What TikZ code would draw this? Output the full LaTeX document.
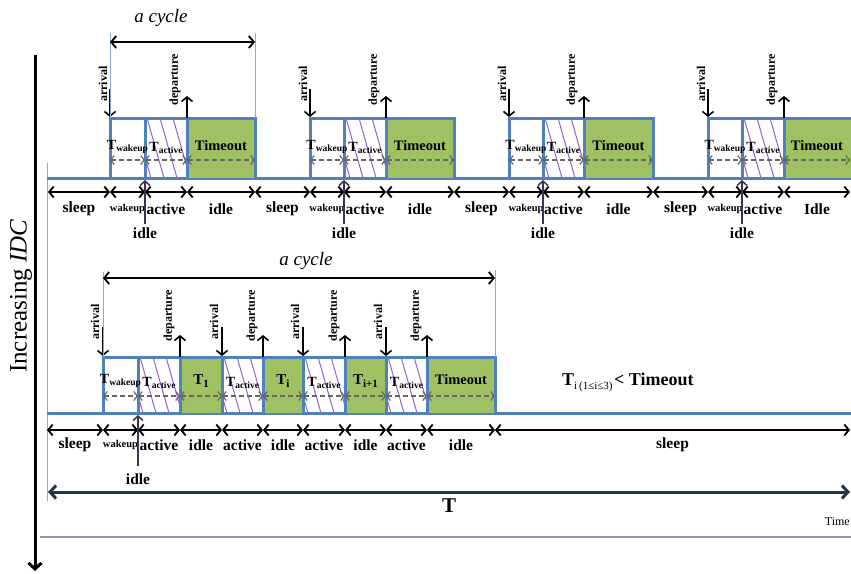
\documentclass[tikz,border=0pt]{standalone}
\usepackage{fontspec}
\setmainfont{Liberation Serif}
\usetikzlibrary{arrows.meta}
\definecolor{boxblue}{RGB}{79,129,189}
\definecolor{thinblue}{RGB}{140,170,210}
\definecolor{boxgreen}{RGB}{160,192,100}
\definecolor{hatchc}{RGB}{150,95,205}
\definecolor{idlepurple}{RGB}{64,49,82}
\definecolor{navyc}{RGB}{36,52,80}
\definecolor{linegray}{RGB}{140,155,175}
\tikzset{
 lbl/.style={font=\bfseries\fontsize{15.5}{15.5}\selectfont, inner sep=0pt},
 wk/.style={font=\bfseries\fontsize{10.5}{10.5}\selectfont, inner sep=0pt},
 rot/.style={rotate=90, font=\bfseries\fontsize{12}{12}\selectfont, inner sep=0pt},
 inlbl/.style={font=\bfseries\fontsize{14}{14}\selectfont, inner sep=0pt},
 seg/.style={black, line width=1.8pt, {Straight Barb[length=4.5pt,width=11pt]}-{Straight Barb[length=4.5pt,width=11pt]}},
 dsh/.style={black!60, dash pattern=on 5pt off 3pt, line width=1.2pt, {Straight Barb[length=3.5pt,width=9pt]}-{Straight Barb[length=3.5pt,width=9pt]}},
 pbox/.style={draw=boxblue, line width=3pt},
 hatchline/.style={hatchc, line width=1pt},
 ad/.style={black, line width=1.6pt, -{Straight Barb[length=4.5pt,width=11pt]}},
 idlearr/.style={idlepurple, line width=1.5pt, -{Straight Barb[length=4.5pt,width=10pt]}},
 thin/.style={thinblue, line width=1pt},
 cyc/.style={black, line width=1.8pt, {Straight Barb[length=5pt,width=12pt]}-{Straight Barb[length=5pt,width=12pt]}},
}
\newcommand\Tsub[1]{T\raisebox{-2.5pt}{\fontsize{9.5}{9.5}\selectfont #1}}
\newcommand\Tbig[1]{{\fontsize{15}{15}\selectfont T}\raisebox{-2.5pt}{\fontsize{11}{11}\selectfont #1}}
\begin{document}
\begin{tikzpicture}[x=1pt,y=-1pt]
\useasboundingbox (0,0) rectangle (851,573);
% left axis
\coordinate (axtop) at (35,55);
\coordinate (axbot) at (35,571);
\draw[line width=3pt, -{Straight Barb[length=6pt,width=13pt]}] (axtop) -- (axbot);
\node[rotate=90, font=\fontsize{25}{25}\selectfont, inner sep=0pt] (incr) at (21,296) {Increasing \textit{IDC}};
% frame lines
\draw[thin] (47,163) -- (47,501);
\draw[linegray, line width=1.4pt] (40,537) -- (851,537);
% ---------- row 1 ----------
\draw[pbox] (47,178) -- (851,178);
\foreach \s/\a/\b/\c/\d/\e/\il in {48/110/145/187/255/255/idle, 255/310/344/386/454/454/idle, 454/509/543/584/653/653/idle, 653/708/742/784/850/860/Idle} {
  \fill[boxgreen] (\c,118) rectangle (\e,178);
  \begin{scope}
    \clip (\b,118) rectangle (\c,178);
    \foreach \k in {-1,0,1,2,3} \draw[hatchline] ({\b+2+13*\k},118) -- ({\b+2+13*\k+17},178);
  \end{scope}
  \draw[pbox] (\a,178) -- (\a,118) -- (\e,118) -- (\e,178);
  \draw[pbox] (\b,118) -- (\b,178);
  \draw[pbox] (\c,118) -- (\c,178);
  \node[inlbl] (tw\a) at ({(\a+\b)/2},147) {\Tsub{wakeup}};
  \node[inlbl] (ta\a) at ({(\b+\c)/2},148) {\Tsub{active}};
  \node[inlbl, font=\bfseries\fontsize{14.5}{14.5}\selectfont] (to\a) at ({(\c+\d)/2},146) {Timeout};
  \coordinate (p1\a) at (\a,160); \coordinate (p2\a) at (\b,160);
  \coordinate (p3\a) at (\c,160); \coordinate (p4\a) at (\d,160);
  \draw[dsh] (p1\a) -- (p2\a);
  \draw[dsh] (p2\a) -- (p3\a);
  \draw[dsh] (p3\a) -- (p4\a);
  % arrival / departure
  \coordinate (ar0\a) at (\a,89); \coordinate (ar1\a) at (\a,117);
  \draw[ad] (ar0\a) -- (ar1\a);
  \node[rot] (arl\a) at ({\a-7},84) {arrival};
  \coordinate (de0\a) at (\c,118); \coordinate (de1\a) at (\c,96);
  \draw[ad] (de0\a) -- (de1\a);
  \node[rot] (del\a) at ({\c-12},80) {departure};
  % segments
  \coordinate (q0\a) at (\s,192); \coordinate (q1\a) at (\a,192);
  \coordinate (q2\a) at (\b,192); \coordinate (q3\a) at (\c,192);
  \coordinate (q4\a) at (\d,192);
  \draw[seg] (q0\a) -- (q1\a);
  \draw[seg] (q1\a) -- (q2\a);
  \draw[seg] (q2\a) -- (q3\a);
  \draw[seg] (q3\a) -- (q4\a);
  \node[lbl] (sl\a) at ({(\s+\a)/2},209) {sleep};
  \node[wk] (wu\a) at ({(\a+\b)/2},209) {wakeup};
  \node[lbl] (ac\a) at ({(\b+\c)/2},209) {active};
  \node[lbl] (id\a) at ({(\c+\d)/2},209) {\il};
  % idle pointer
  \coordinate (ip0\a) at (\b,224); \coordinate (ip1\a) at (\b,180);
  \draw[idlearr] (ip0\a) -- (ip1\a);
  \node[lbl] (ipl\a) at (\b,233) {idle};
}
% a cycle row 1
\coordinate (c1l) at (110,42); \coordinate (c1r) at (255,42);
\draw[thin] (110,33) -- (110,118);
\draw[thin] (255,33) -- (255,118);
\draw[cyc] (c1l) -- (c1r);
\node[font=\itshape\fontsize{19}{19}\selectfont, inner sep=0pt] (cyc1) at (161,18) {a cycle};
% ---------- row 2 ----------
\draw[pbox] (47,413) -- (851,413);
\foreach \x/\y in {180/222, 263/303, 345/386, 427/495} \fill[boxgreen] (\x,357) rectangle (\y,413);
\foreach \x/\y in {138/180, 222/263, 303/345, 386/427} {
  \begin{scope}
    \clip (\x,357) rectangle (\y,413);
    \foreach \k in {-1,0,1,2,3} \draw[hatchline] ({\x+2+13*\k},357) -- ({\x+2+13*\k+16},413);
  \end{scope}
}
\draw[pbox] (103,413) -- (103,357) -- (495,357) -- (495,413);
\foreach \x in {138,180,222,263,303,345,386,427} \draw[pbox] (\x,357) -- (\x,413);
\node[inlbl] (r2tw) at (120.5,381) {\Tsub{wakeup}};
\node[inlbl] (r2ta1) at (159,383) {\Tsub{active}};
\node[inlbl] (r2t1) at (201,381) {\Tbig{1}};
\node[inlbl] (r2ta2) at (242.5,383) {\Tsub{active}};
\node[inlbl] (r2ti) at (283,381) {\Tbig{i}};
\node[inlbl] (r2ta3) at (324,383) {\Tsub{active}};
\node[inlbl] (r2ti1) at (365.5,381) {\Tbig{i+1}};
\node[inlbl] (r2ta4) at (406.5,383) {\Tsub{active}};
\node[inlbl, font=\bfseries\fontsize{14.5}{14.5}\selectfont] (r2to) at (461,380) {Timeout};
\foreach \x/\y in {103/138,138/180,180/222,222/263,263/303,303/345,345/386,386/427,427/495} {
  \coordinate (r2da\x) at (\x,396); \coordinate (r2db\x) at (\y,396);
  \draw[dsh] (r2da\x) -- (r2db\x);
}
\foreach \x in {103,222,303,386} {
  \coordinate (r2a0\x) at (\x,327); \coordinate (r2a1\x) at (\x,356);
  \draw[ad] (r2a0\x) -- (r2a1\x);
  \node[rot] (r2al\x) at ({\x-8},322) {arrival};
}
\foreach \x in {180,263,345,427} {
  \coordinate (r2d0\x) at (\x,357); \coordinate (r2d1\x) at (\x,335);
  \draw[ad] (r2d0\x) -- (r2d1\x);
  \node[rot] (r2dl\x) at ({\x-11},316) {departure};
}
\foreach \x/\y/\t/\st in {47/103/sleep/lbl, 103/138/wakeup/wk, 138/180/active/lbl, 180/222/idle/lbl, 222/263/active/lbl, 263/303/idle/lbl, 303/345/active/lbl, 345/386/idle/lbl, 386/427/active/lbl, 427/495/idle/lbl, 495/850/sleep/lbl} {
  \coordinate (r2sa\x) at (\x,430); \coordinate (r2sb\x) at (\y,430);
  \draw[seg] (r2sa\x) -- (r2sb\x);
  \node[\st] (r2sl\x) at ({(\x+\y)/2},445) {\t};
}
\coordinate (r2ip0) at (138,466); \coordinate (r2ip1) at (138,415);
\draw[idlearr] (r2ip0) -- (r2ip1);
\node[lbl] (r2ipl) at (138,479) {idle};
% a cycle row 2
\coordinate (c2l) at (103,278); \coordinate (c2r) at (495,278);
\draw[thin] (103,272) -- (103,357);
\draw[thin] (495,270) -- (495,357);
\draw[cyc] (c2l) -- (c2r);
\node[font=\itshape\fontsize{19}{19}\selectfont, inner sep=0pt] (cyc2) at (306,261) {a cycle};
% condition
\node[inner sep=0pt, anchor=west] (cond) at (562,382) {{\bfseries\fontsize{18}{18}\selectfont T}\raisebox{-4pt}{\fontsize{11}{11}\selectfont i\,(1≤i≤3)}\,{\bfseries\fontsize{18}{18}\selectfont < Timeout}};
% total T
\coordinate (tl) at (48,492); \coordinate (tr) at (850,492);
\draw[navyc, line width=3pt, {Straight Barb[length=6pt,width=13pt]}-{Straight Barb[length=6pt,width=13pt]}] (tl) -- (tr);
\node[font=\bfseries\fontsize{21}{21}\selectfont, inner sep=0pt] (Tlab) at (449,506) {T};
\node[font=\fontsize{12}{12}\selectfont, inner sep=0pt, anchor=east] (timelab) at (850,522) {Time};
\end{tikzpicture}
\end{document}
